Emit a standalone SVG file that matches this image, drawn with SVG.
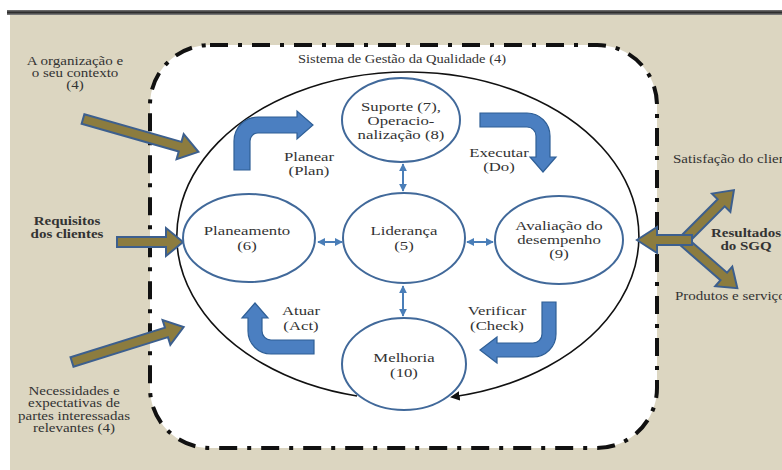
<svg xmlns="http://www.w3.org/2000/svg" width="782" height="470" viewBox="0 0 782 470">
<defs>
<style>
text { font-family: "Liberation Serif", "Times New Roman", serif; fill: #333; }
.lbl { font-size: 12px; }
.b { font-weight: bold; }
.nd { font-size: 13.5px; }
.node ellipse { fill: #fff; stroke: #41699a; stroke-width: 2; }
.olive { fill: #8c7c3f; stroke: #3c5f8e; stroke-width: 2; }
.blue { fill: #4b7fc1; stroke: #2f5f96; stroke-width: 1.2; }
.dbl { stroke: #4a7eb8; stroke-width: 2; fill: none; marker-start: url(#ah); marker-end: url(#ah); }
</style>
<marker id="ah" viewBox="0 0 10 10" refX="9" refY="5" markerWidth="4" markerHeight="4" orient="auto-start-reverse" markerUnits="strokeWidth"><path d="M0,0 L10,5 L0,10 z" fill="#4a7eb8"/></marker>
<marker id="bk" viewBox="0 0 10 10" refX="8" refY="5" markerWidth="6" markerHeight="6" orient="auto" markerUnits="strokeWidth"><path d="M0,0 L10,5 L0,10 z" fill="#111"/></marker>
<linearGradient id="bar" x1="0" y1="0" x2="0" y2="1"><stop offset="0" stop-color="#777"/><stop offset="0.5" stop-color="#2e2e2e"/><stop offset="1" stop-color="#888"/></linearGradient>
</defs>
<rect x="0" y="0" width="782" height="470" fill="#ffffff"/>
<rect x="10" y="14" width="772" height="456" fill="#dcd6c1"/>
<rect x="7" y="10" width="775" height="5" fill="url(#bar)"/>
<rect id="sgq" x="150" y="45" width="507" height="403" rx="60" ry="60" fill="#ffffff" stroke="#111" stroke-width="4" stroke-dasharray="18 10 4 10"/>
<text class="lbl" transform="translate(402 0) scale(1.21 1)" x="0" y="63" text-anchor="middle">Sistema de Gestão da Qualidade (4)</text>
<g id="connectors">
<path d="M357,396 A231,164 0 1 1 452,397" fill="none" stroke="#111" stroke-width="1.6" marker-end="url(#bk)"/>
<line class="dbl" x1="403" y1="164" x2="403" y2="191"/>
<line class="dbl" x1="403" y1="286" x2="403" y2="316"/>
<line class="dbl" x1="318" y1="242" x2="342" y2="242"/>
<line class="dbl" x1="467" y1="242" x2="493" y2="242"/>
<path class="blue" d="M234,170 V141 A24,24 0 0 1 258,117 H297 V111 L313,125 L297,139 V133 H258 A8,8 0 0 0 250,141 V170 Z"/>
<path class="blue" d="M480,113 H527 A23,23 0 0 1 550,136 V157 H556 L543,172 L530,157 H536 V136 A9,9 0 0 0 527,127 H480 Z"/>
<path class="blue" d="M542,302 H556 V334 A23,23 0 0 1 533,357 H497 V363 L480,350 L497,337 V343 H533 A9,9 0 0 0 542,334 Z"/>
<path class="blue" d="M314,340 V354 H271 A23,23 0 0 1 248,331 V318 H242 L255,303 L268,318 H262 V331 A9,9 0 0 0 271,340 Z"/>
<polygon class="olive" transform="translate(83 119) rotate(15.9)" points="0,-5 101,-5 101,-13 120,0 101,13 101,5 0,5"/>
<polygon class="olive" transform="translate(117 242)" points="0,-5 49,-5 49,-14 66,0 49,14 49,5 0,5"/>
<polygon class="olive" transform="translate(72 362) rotate(-17.4)" points="0,-5 99,-5 99,-13 117,0 99,13 99,5 0,5"/>
<polygon class="olive" transform="translate(683 241) rotate(-45)" points="0,-5 54,-5 54,-13 72,0 54,13 54,5 0,5"/>
<polygon class="olive" transform="translate(683 241) rotate(41)" points="0,-5 54,-5 54,-13 72,0 54,13 54,5 0,5"/>
<polygon class="olive" transform="translate(692 240) rotate(180)" points="0,-5 35,-5 35,-13 55,0 35,13 35,5 0,5"/>
</g>
<g id="suporte" class="node">
<ellipse cx="401" cy="120" rx="59" ry="42"/>
<text class="nd" transform="translate(401 0) scale(1.24 1)" text-anchor="middle"><tspan x="0" y="111">Suporte (7),</tspan><tspan x="0" y="125">Operacio-</tspan><tspan x="0" y="139">nalização (8)</tspan></text>
</g>
<g id="planeamento" class="node">
<ellipse cx="249" cy="238" rx="66" ry="44"/>
<text class="nd" transform="translate(247 0) scale(1.24 1)" text-anchor="middle"><tspan x="0" y="235">Planeamento</tspan><tspan x="0" y="250">(6)</tspan></text>
</g>
<g id="lideranca" class="node">
<ellipse cx="404" cy="238" rx="61" ry="45"/>
<text class="nd" transform="translate(404 0) scale(1.24 1)" text-anchor="middle"><tspan x="0" y="235">Liderança</tspan><tspan x="0" y="250">(5)</tspan></text>
</g>
<g id="avaliacao" class="node">
<ellipse cx="559" cy="240" rx="64" ry="44"/>
<text class="nd" transform="translate(559 0) scale(1.24 1)" text-anchor="middle"><tspan x="0" y="230">Avaliação do</tspan><tspan x="0" y="244">desempenho</tspan><tspan x="0" y="258">(9)</tspan></text>
</g>
<g id="melhoria" class="node">
<ellipse cx="404" cy="364" rx="62" ry="46"/>
<text class="nd" transform="translate(404 0) scale(1.24 1)" text-anchor="middle"><tspan x="0" y="362">Melhoria</tspan><tspan x="0" y="377">(10)</tspan></text>
</g>
<g id="pdca">
<text class="nd" transform="translate(309 0) scale(1.24 1)" text-anchor="middle"><tspan x="0" y="161">Planear</tspan><tspan x="0" y="175">(Plan)</tspan></text>
<text class="nd" transform="translate(499 0) scale(1.24 1)" text-anchor="middle"><tspan x="0" y="157">Executar</tspan><tspan x="0" y="171">(Do)</tspan></text>
<text class="nd" transform="translate(301 0) scale(1.24 1)" text-anchor="middle"><tspan x="0" y="315">Atuar</tspan><tspan x="0" y="330">(Act)</tspan></text>
<text class="nd" transform="translate(497 0) scale(1.24 1)" text-anchor="middle"><tspan x="0" y="315">Verificar</tspan><tspan x="0" y="330">(Check)</tspan></text>
</g>
<g id="contexto">
<text class="lbl" transform="translate(75 0) scale(1.25 1)" text-anchor="middle"><tspan x="0" y="65">A organização e</tspan><tspan x="0" y="77">o seu contexto</tspan><tspan x="0" y="89">(4)</tspan></text>
</g>
<g id="requisitos">
<text class="lbl b" transform="translate(67 0) scale(1.25 1)" text-anchor="middle"><tspan x="0" y="225">Requisitos</tspan><tspan x="0" y="238">dos clientes</tspan></text>
</g>
<g id="partes">
<text class="lbl" transform="translate(74 0) scale(1.25 1)" text-anchor="middle"><tspan x="0" y="395">Necessidades e</tspan><tspan x="0" y="407.5">expectativas de</tspan><tspan x="0" y="420">partes interessadas</tspan><tspan x="0" y="432.5">relevantes (4)</tspan></text>
</g>
<g id="resultados">
<text class="lbl" transform="translate(673 0) scale(1.25 1)" x="0" y="163">Satisfação do cliente</text>
<text class="lbl b" transform="translate(746 0) scale(1.25 1)" text-anchor="middle"><tspan x="0" y="237">Resultados</tspan><tspan x="0" y="250">do SGQ</tspan></text>
<text class="lbl" transform="translate(675 0) scale(1.25 1)" x="0" y="300">Produtos e serviços</text>
</g>
</svg>
